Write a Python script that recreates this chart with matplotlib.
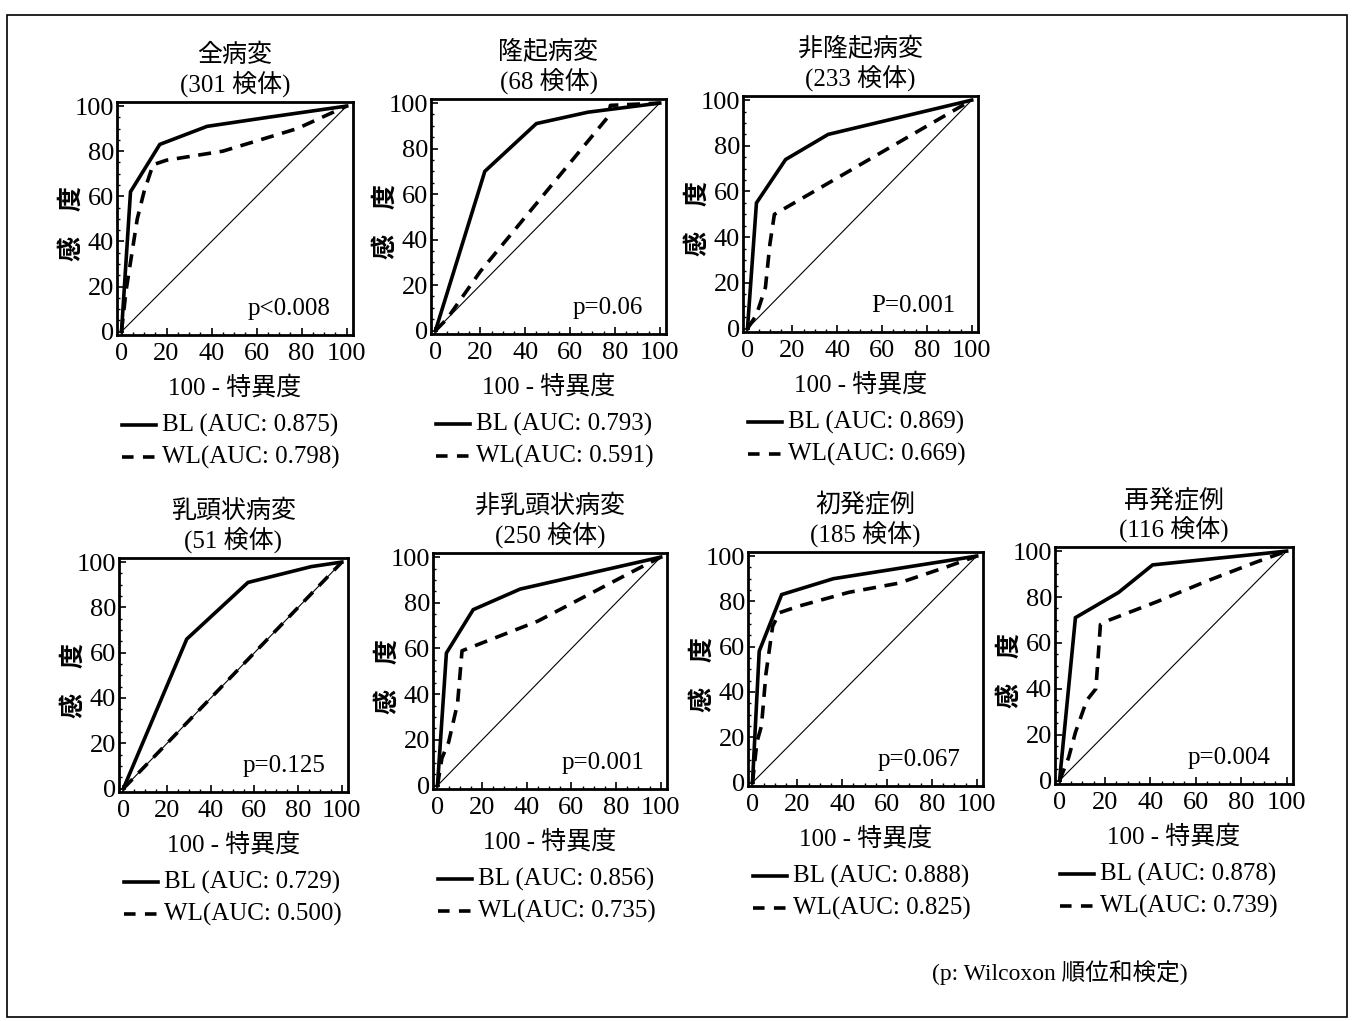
import matplotlib
matplotlib.use('Agg')
import matplotlib.pyplot as plt
from matplotlib.patches import Rectangle
from matplotlib.ticker import MultipleLocator

plt.rcParams['font.family'] = ['Liberation Serif', 'Noto Sans CJK JP']

W, H = 1352, 1021

# DATA #####
titles = ['全病変', '隆起病変', '非隆起病変', '乳頭状病変', '非乳頭状病変', '初発症例', '再発症例']
n_samples = ['(301 検体)', '(68 検体)', '(233 検体)', '(51 検体)', '(250 検体)', '(185 検体)', '(116 検体)']
p_labels = ['p<0.008', 'p=0.06', 'P=0.001', 'p=0.125', 'p=0.001', 'p=0.067', 'p=0.004']
auc_bl = ['0.875', '0.793', '0.869', '0.729', '0.856', '0.888', '0.878']
auc_wl = ['0.798', '0.591', '0.669', '0.500', '0.735', '0.825', '0.739']

# 100 - specificity (x) / sensitivity (y)
bl_x = [[0, 4, 17, 38, 65, 100],
        [0, 22, 45, 68, 100],
        [0, 4, 17, 36, 100],
        [0, 29, 57, 86, 100],
        [0, 4, 16, 37, 100],
        [0, 3, 13, 36, 100],
        [0, 7, 26, 41, 100]]
bl_y = [[0, 62, 83, 91, 95, 100],
        [0, 70, 91, 96, 100],
        [0, 55, 74, 85, 100],
        [0, 66, 91, 98, 100],
        [0, 58, 77, 86, 100],
        [0, 58, 83, 90, 100],
        [0, 71, 82, 94, 100]]
wl_x = [[0, 2, 7, 10, 14, 20, 45, 78, 100],
        [0, 5, 20, 77, 78, 100],
        [0, 4, 8, 10, 12, 100],
        [0, 100],
        [0, 2, 5, 9, 11, 45, 88, 100],
        [0, 2, 4, 6, 9, 12, 21, 43, 65, 86, 100],
        [0, 4, 7, 12, 16, 18, 22, 43, 65, 86, 100]]
wl_y = [[0, 18, 50, 62, 74, 76, 80, 90, 100],
        [0, 5, 26, 94, 99, 100],
        [0, 6, 18, 37, 50, 100],
        [0, 100],
        [0, 12, 19, 36, 59, 72, 94, 100],
        [0, 18, 25, 48, 69, 75, 78, 84, 88, 95, 100],
        [0, 10, 21, 35, 40, 68, 70, 78, 87, 95, 100]]
ticks = [0, 20, 40, 60, 80, 100]

# panel boxes in pixels: left, top, right, bottom
boxes = [(117, 102, 353, 335), (431, 99, 666, 334), (743, 96, 978, 332),
         (119, 558, 348, 792), (433, 553, 667, 789), (748, 552, 983, 786),
         (1055, 547, 1293, 784)]


def fx(x):
    return x / W


def fy(y):
    return 1 - y / H


fig = plt.figure(figsize=(W / 100, H / 100), dpi=100)
fig.patch.set_facecolor('white')

fs = 18
for i, (l, t, r, b) in enumerate(boxes):
    ax = fig.add_axes([fx(l), fy(b), (r - l) / W, (b - t) / H])
    ax.plot([0, 100], [0, 100], color='black', lw=0.8)
    ax.plot(bl_x[i], bl_y[i], color='black', lw=2.6, solid_joinstyle='miter')
    ax.plot(wl_x[i], wl_y[i], color='black', lw=2.6, dashes=(3.6, 2.4))
    ax.set_xlim(-2, 102.8)
    ax.set_ylim(-1.5, 101.8)
    ax.set_xticks(ticks)
    ax.set_yticks(ticks)
    ax.xaxis.set_minor_locator(MultipleLocator(5))
    ax.yaxis.set_minor_locator(MultipleLocator(5))
    ax.tick_params(which='major', direction='in', length=5, width=1.2, labelsize=19)
    ax.tick_params(which='minor', direction='in', length=2.5, width=1.0)
    ax.tick_params(axis='x', pad=6)
    ax.tick_params(axis='y', pad=2)
    for s in ax.spines.values():
        s.set_linewidth(2.0)
    ax.text(1 - 23 / (r - l), 26 / (b - t), p_labels[i], transform=ax.transAxes,
            ha='right', va='center', fontsize=fs)

    cx = (l + r) / 2
    fig.text(fx(cx), fy(t - 47), titles[i], ha='center', va='center', fontsize=fs)
    fig.text(fx(cx), fy(t - 17), n_samples[i], ha='center', va='center', fontsize=fs)
    fig.text(fx(cx), fy(b + 53), '100 - 特異度', ha='center', va='center', fontsize=fs)
    fig.text(fx(l - 45), fy((t + b) / 2 + 5), '感　度', ha='center', va='center',
             fontsize=fs, rotation=90, fontweight='bold')

    # legend rows
    y1, y2 = b + 90, b + 122
    fig.add_artist(plt.Line2D([fx(l + 5), fx(l + 39)], [fy(y1), fy(y1)], color='black', lw=2.6))
    fig.add_artist(plt.Line2D([fx(l + 5), fx(l + 39)], [fy(y2), fy(y2)], color='black', lw=2.6,
                              dashes=(3.2, 2.6)))
    fig.text(fx(l + 45), fy(y1), 'BL (AUC: ' + auc_bl[i] + ')', ha='left', va='center', fontsize=fs)
    fig.text(fx(l + 45), fy(y2), 'WL(AUC: ' + auc_wl[i] + ')', ha='left', va='center', fontsize=fs)

fig.text(fx(932), fy(973), '(p: Wilcoxon 順位和検定)', ha='left', va='center', fontsize=17)

fig.add_artist(Rectangle((fx(7), fy(1017)), (1347 - 7) / W, (1017 - 15) / H,
                         transform=fig.transFigure, fill=False, edgecolor='black', lw=1.2))

fig.savefig('out.png', dpi=100, facecolor='white')
